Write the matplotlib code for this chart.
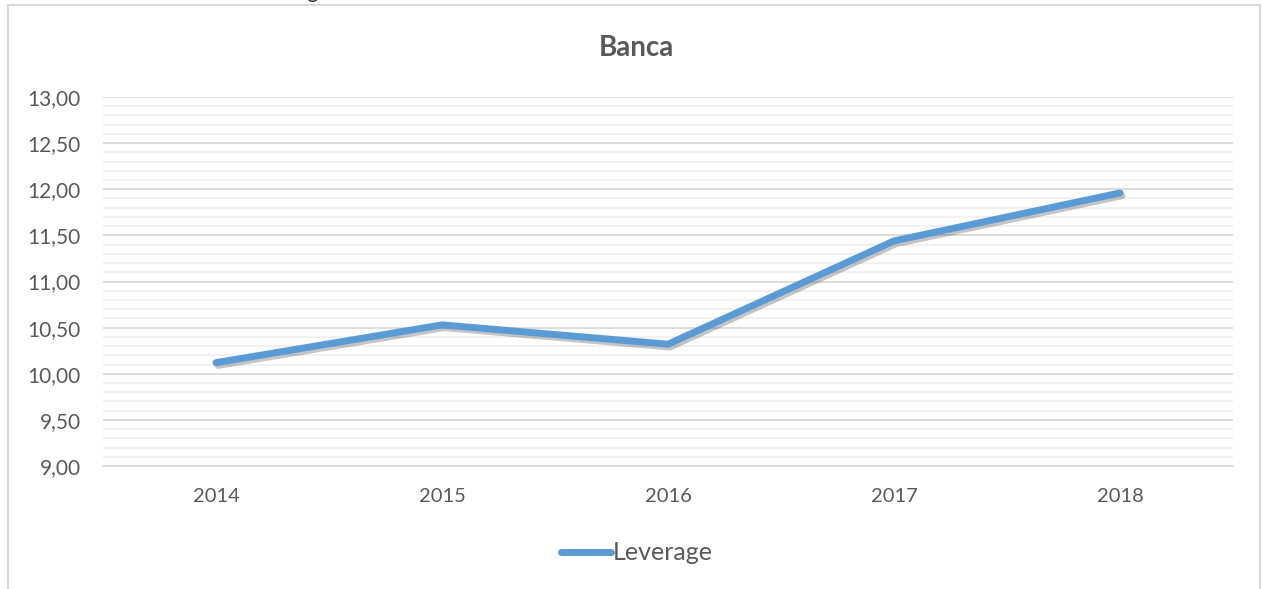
import matplotlib
matplotlib.use('Agg')
import matplotlib.pyplot as plt
import matplotlib.patheffects as pe
from matplotlib.patches import Rectangle
from matplotlib.ticker import MultipleLocator, FuncFormatter

years = ['2014', '2015', '2016', '2017', '2018']
leverage = [10.12, 10.53, 10.32, 11.44, 11.96]

plt.rcParams['font.family'] = ['Lato', 'DejaVu Sans']
grey = '#595959'
blue = '#5B9BD5'

fig = plt.figure(figsize=(12.62, 5.89), dpi=100)

# chart frame (Excel-style border)
frame = Rectangle((8 / 1262, -0.01), 1252 / 1262, 1 - 5 / 589 + 0.01,
                  transform=fig.transFigure, fill=False,
                  edgecolor='#d9d9d9', linewidth=1.5)
fig.patches.append(frame)

# caption cut off at the top of the page, as in the source
fig.text(0.0, 1 + 1.5 / 589, "Grafico dell'andamento del leverage settore banca",
         ha='left', va='baseline', fontsize=15, color='#333333')

ax = fig.add_axes([103 / 1262, 1 - 466 / 589, 1130 / 1262, 369 / 589])
x = range(len(years))
ax.plot(x, leverage, color=blue, linewidth=5, solid_capstyle='round',
        solid_joinstyle='round', label='Leverage',
        path_effects=[pe.SimpleLineShadow(offset=(1.5, -2), alpha=0.3, shadow_color='#404040'),
                      pe.Normal()])

ax.set_xlim(-0.5, 4.5)
ax.set_ylim(9, 13)
ax.set_xticks(list(x))
ax.set_xticklabels(years)
ax.yaxis.set_major_locator(MultipleLocator(0.5))
ax.yaxis.set_minor_locator(MultipleLocator(0.1))
ax.yaxis.set_major_formatter(FuncFormatter(lambda v, p: f'{v:.2f}'.replace('.', ',')))
ax.grid(axis='y', which='major', color='#d9d9d9', linewidth=1.3)
ax.grid(axis='y', which='minor', color='#f0f0f0', linewidth=1.3)
ax.set_axisbelow(True)
for s in ['top', 'right', 'left']:
    ax.spines[s].set_visible(False)
ax.spines['bottom'].set_color('#d9d9d9')
ax.spines['bottom'].set_linewidth(1.3)
ax.tick_params(axis='both', which='both', length=0, colors=grey)
ax.tick_params(axis='y', labelsize=15, pad=16)
ax.tick_params(axis='x', labelsize=14.5, pad=16)

fig.text(636 / 1262, 1 - 48 / 589, 'Banca', ha='center', va='center',
         fontsize=20, fontweight='bold', color=grey)

leg = fig.legend(loc='center', bbox_to_anchor=(637 / 1262, 1 - 553 / 589),
                 frameon=False, fontsize=18, handlelength=2.0, handletextpad=0.05)
for h in leg.get_lines():
    h.set_path_effects([])
for t in leg.get_texts():
    t.set_color(grey)

fig.savefig('out.png', dpi=100)
